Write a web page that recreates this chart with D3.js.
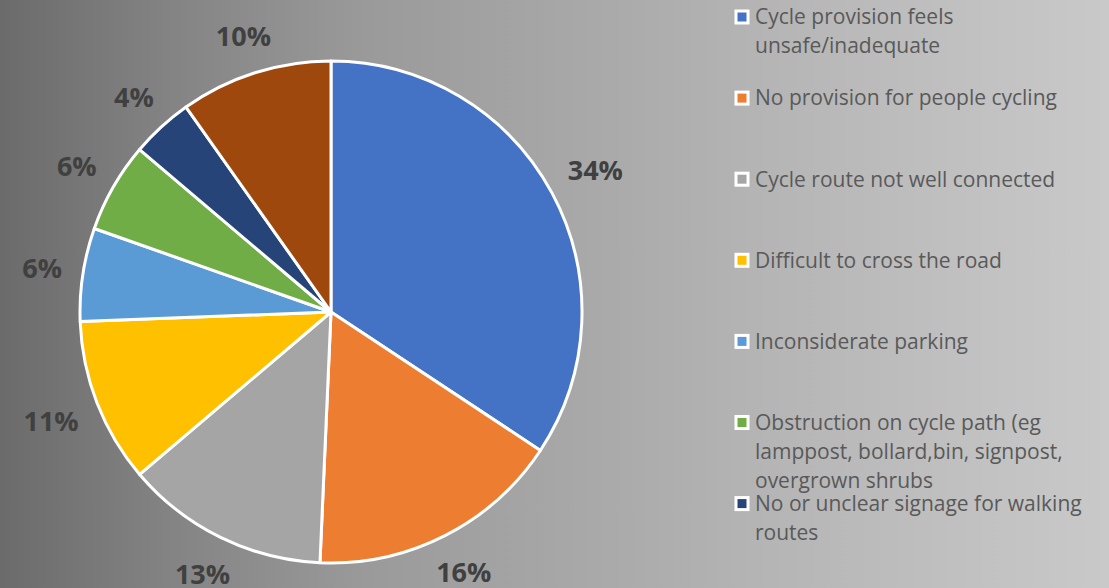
<!DOCTYPE html>
<html>
<head>
<meta charset="utf-8">
<script src="https://cdn.jsdelivr.net/npm/d3@7"></script>
<style>
  body { margin: 0; overflow: hidden; }
</style>
</head>
<body>
<div id="chart"></div>
<script>
var categories = [
  "Cycle provision feels unsafe/inadequate",
  "No provision for people cycling",
  "Cycle route not well connected",
  "Difficult to cross the road",
  "Inconsiderate parking",
  "Obstruction on cycle path (eg lamppost, bollard,bin, signpost, overgrown shrubs",
  "No or unclear signage for walking routes",
  "Other"
]
var values = [34.3, 16.4, 13.1, 10.6, 6.0, 5.8, 4.0, 9.8]
var colors = ["#4472C4", "#ED7D31", "#A5A5A5", "#FFC000", "#5B9BD5", "#70AD47", "#264478", "#9E480E"]

var width = 1109,
height = 588,
cx = 331, cy = 312,
radius = 251,
legendStep = 81.1

var svg = d3.select("#chart")
  .append("svg")
  .attr("width", width)
  .attr("height", height)

var defs = svg.append("defs")
var grad = defs.append("linearGradient")
  .attr("id", "bg")
  .attr("x1", "0%").attr("x2", "100%")
  .attr("y1", "0%").attr("y2", "0%")
grad.selectAll("stop")
  .data([[0, "#6b6b6b"], [0.15, "#838383"], [0.33, "#9a9a9a"], [0.55, "#aaaaaa"], [0.68, "#b4b4b4"], [1, "#c9c9c9"]])
  .enter().append("stop")
  .attr("offset", function(d) { return d[0] })
  .attr("stop-color", function(d) { return d[1] })

svg.append("rect")
  .attr("width", width)
  .attr("height", height)
  .attr("fill", "url(#bg)")

var data = categories.map(function(c, i) { return {name: c, value: values[i], color: colors[i]} })

var pie = d3.pie()
  .sort(null)
  .value(function(d) { return d.value })

var arc = d3.arc()
  .innerRadius(0)
  .outerRadius(radius)

var g = svg.append("g")
  .attr("transform", "translate(" + cx + "," + cy + ")")

var arcs = pie(data)

g.selectAll("path")
  .data(arcs)
  .enter().append("path")
  .attr("d", arc)
  .attr("fill", function(d) { return d.data.color })
  .attr("stroke", "#fff")
  .attr("stroke-width", 3)
  .attr("stroke-linejoin", "round")

g.selectAll("text.lbl")
  .data(arcs)
  .enter().append("text")
  .attr("class", "lbl")
  .attr("text-anchor", "middle")
  .attr("dy", "0.36em")
  .style("font-family", "'Open Sans', sans-serif")
  .style("font-weight", "bold")
  .style("font-size", "27px")
  .attr("fill", "#404040")
  .text(function(d) { return Math.round(d.data.value) + "%" })
  .attr("transform", function(d) {
    var a = (d.startAngle + d.endAngle) / 2,
    w = this.getComputedTextLength(),
    h = 20,
    r = radius + 20 + w / 2 * Math.abs(Math.sin(a)) + h / 2 * Math.abs(Math.cos(a))
    return "translate(" + (r * Math.sin(a)) + "," + (-r * Math.cos(a)) + ")"
  })

// legend - the original box only has room for the first entries
var legend = svg.append("g")
  .attr("transform", "translate(742,17)")

var item = legend.selectAll("g")
  .data(data.filter(function(d, i) { return 17 + i * legendStep < height - 20 }))
  .enter().append("g")
  .attr("transform", function(d, i) { return "translate(0," + (i * legendStep) + ")" })

item.append("rect")
  .attr("x", -6).attr("y", -6)
  .attr("width", 12).attr("height", 12)
  .attr("fill", function(d) { return d.color })
  .attr("stroke", "#fff")
  .attr("stroke-width", 3)

item.append("text")
  .style("font-family", "'Open Sans', sans-serif")
  .style("font-size", "21px")
  .attr("fill", "#595959")
  .each(function(d) {
    var el = d3.select(this),
    words = d.name.split(" "),
    line = [],
    tspan = el.append("tspan").attr("x", 13).attr("dy", "0.35em")
    words.forEach(function(w) {
      line.push(w)
      tspan.text(line.join(" "))
      if (tspan.node().getComputedTextLength() > 340 && line.length > 1) {
        line.pop()
        tspan.text(line.join(" "))
        line = [w]
        tspan = el.append("tspan").attr("x", 13).attr("dy", "29px").text(w)
      }
    })
  })
</script>
</body>
</html>
